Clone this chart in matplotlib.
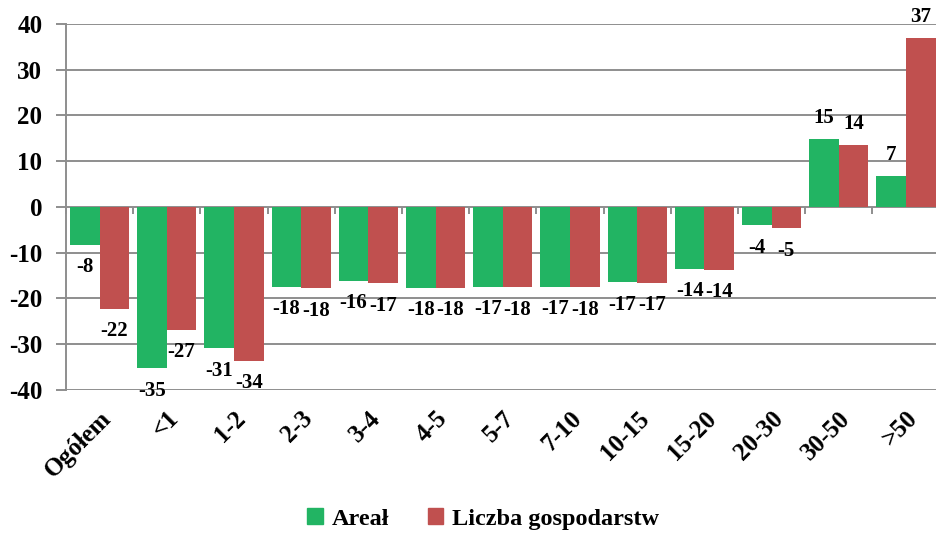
import matplotlib
matplotlib.use("Agg")
import matplotlib.pyplot as plt
from matplotlib.patches import Patch
import numpy as np

categories = ["Ogółem", "<1", "1-2", "2-3", "3-4", "4-5", "5-7", "7-10",
              "10-15", "15-20", "20-30", "30-50", ">50"]
areal = [-8.3, -35.3, -30.9, -17.5, -16.2, -17.7, -17.4, -17.4, -16.5, -13.5, -4.0, 14.8, 6.8]
liczba = [-22.3, -26.8, -33.7, -17.8, -16.7, -17.7, -17.6, -17.6, -16.6, -13.8, -4.7, 13.6, 37.0]
areal_labels = ["-8", "-35", "-31", "-18", "-16", "-18", "-17", "-17", "-17", "-14", "-4", "15", "7"]
liczba_labels = ["-22", "-27", "-34", "-18", "-17", "-18", "-18", "-18", "-17", "-14", "-5", "14", "37"]
series_names = ["Areał", "Liczba gospodarstw"]
yticks = [-40, -30, -20, -10, 0, 10, 20, 30, 40]

green = "#22B463"
red = "#C0504F"
grid_c = "#8E8E8E"

plt.rcParams["font.family"] = ["Liberation Serif", "DejaVu Serif"]
plt.rcParams["font.weight"] = "bold"

fig = plt.figure(figsize=(9.36, 5.34), dpi=100)
ax = fig.add_axes([0.0705, 0.2697, 0.9333, 0.6854])

x = np.arange(len(categories))
w = 0.44
b1 = ax.bar(x - w / 2, areal, w, color=green, zorder=3)
b2 = ax.bar(x + w / 2, liczba, w, color=red, zorder=3)

for bars, labs in ((b1, areal_labels), (b2, liczba_labels)):
    for rect, lab in zip(bars, labs):
        h = rect.get_height()
        cx = rect.get_x() + rect.get_width() / 2
        off = 15 if h >= 0 else -16
        ax.annotate(lab, (cx, h), xytext=(0, off), textcoords="offset points",
                    ha="center", va="center", fontsize=15, fontweight="bold")

ax.set_xlim(-0.5, len(categories) - 0.5)
ax.set_ylim(-40, 40)
ax.set_yticks(yticks)
ax.set_yticklabels([str(t) for t in yticks], fontsize=18, fontweight="bold")
ax.yaxis.grid(True, color=grid_c, lw=1.4, zorder=0)
ax.set_axisbelow(True)
for s in ("top", "right", "bottom"):
    ax.spines[s].set_visible(False)
ax.spines["left"].set_color(grid_c)
ax.spines["left"].set_linewidth(1.4)
ax.tick_params(axis="y", color=grid_c, width=1.4, length=7, pad=10)

ax.set_xticks(x)
ax.set_xticklabels(categories, rotation=45, ha="right", rotation_mode="anchor",
                   fontsize=18, fontweight="bold")
ax.tick_params(axis="x", length=0, pad=12)

# small tick marks on the zero line at category boundaries
sec = ax.secondary_xaxis(0.5)
sec.xaxis.set_ticks_position("bottom")
sec.set_xticks(np.arange(-0.5, len(categories), 1.0))
sec.set_xticklabels([])
sec.tick_params(axis="x", which="major", direction="out", length=5,
                color=grid_c, width=1.4, bottom=True, top=False)
for s in sec.spines.values():
    s.set_visible(False)
sec.set_zorder(5)

handles = [Patch(color=green), Patch(color=red)]
fig.legend(handles, series_names, loc="center", bbox_to_anchor=(0.516, 0.028),
           ncol=2, frameon=False, handlelength=0.65, handleheight=0.65,
           handletextpad=0.35, columnspacing=1.6,
           prop={"family": "Liberation Serif", "weight": "bold", "size": 17.5})

fig.savefig("out.png", dpi=100)
